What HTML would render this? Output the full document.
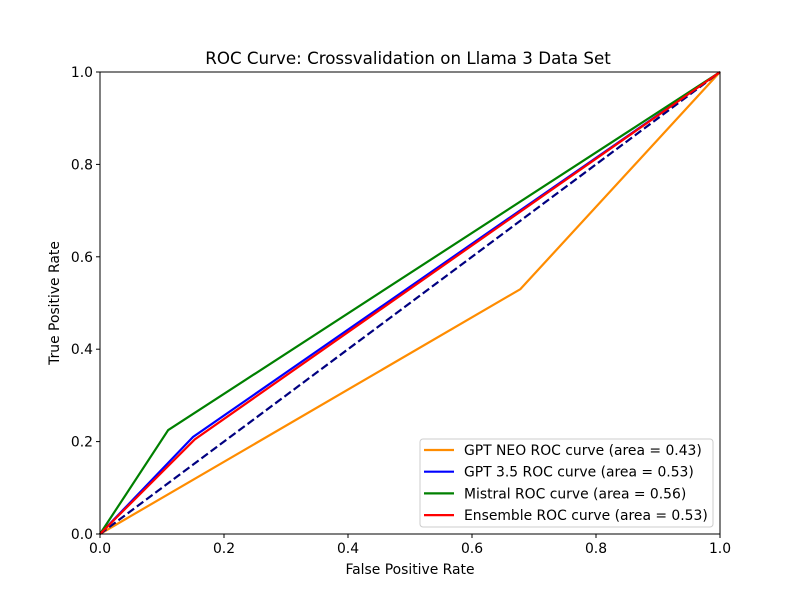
<!DOCTYPE html>
<html><head><meta charset="utf-8"><style>
body{margin:0;background:#fff;}
text{font-family:"DejaVu Sans","Liberation Sans",sans-serif;}
</style></head><body>
<svg id="chart" width="800" height="600" xmlns="http://www.w3.org/2000/svg">
<rect width="800" height="600" fill="#fff"/>
<text x="408" y="64" text-anchor="middle" font-size="16.7">ROC Curve: Crossvalidation on Llama 3 Data Set</text>
<g id="plot"></g>
<text x="410" y="574" text-anchor="middle" font-size="13.9">False Positive Rate</text>
<text x="59" y="303" text-anchor="middle" font-size="13.9" transform="rotate(-90 59 303)">True Positive Rate</text>
</svg>
<script>
const xTicks=[0,0.2,0.4,0.6,0.8,1.0];
const yTicks=[0,0.2,0.4,0.6,0.8,1.0];
const seriesNames=["GPT NEO ROC curve (area = 0.43)","GPT 3.5 ROC curve (area = 0.53)","Mistral ROC curve (area = 0.56)","Ensemble ROC curve (area = 0.53)"];
const seriesColors=["darkorange","blue","green","red"];
const neoFpr=[0,0.678,1]; const neoTpr=[0,0.53,1];
const gpt35Fpr=[0,0.15,1]; const gpt35Tpr=[0,0.21,1];
const mistralFpr=[0,0.11,1]; const mistralTpr=[0,0.225,1];
const ensFpr=[0,0.153,1]; const ensTpr=[0,0.205,1];
const chanceX=[0,1]; const chanceY=[0,1];

const L=100,R=720,T=72,B=534;
const sx=v=>L+v*(R-L), sy=v=>B-v*(B-T);
const NS="http://www.w3.org/2000/svg";
const g=document.getElementById('plot');
function mk(tag,attrs,parent){const e=document.createElementNS(NS,tag);for(const k in attrs)e.setAttribute(k,attrs[k]);(parent||g).appendChild(e);return e;}
function pts(xs,ys){return xs.map((x,i)=>sx(x)+','+sy(ys[i])).join(' ');}

xTicks.forEach(t=>{
 const l=mk('line',{x1:sx(t),x2:sx(t),y1:B,y2:B+4,stroke:'#000'});
 
 
 const tx=mk('text',{x:sx(t),y:B+19,'text-anchor':'middle','font-size':'13.9'});
 tx.textContent=t.toFixed(1);
 
 
});
yTicks.forEach(t=>{
 const l=mk('line',{x1:L-4,x2:L,y1:sy(t),y2:sy(t),stroke:'#000'});
 
 
 const tx=mk('text',{x:L-7,y:sy(t)+5,'text-anchor':'end','font-size':'13.9'});
 tx.textContent=t.toFixed(1);
 
 
});

const allX=[neoFpr,gpt35Fpr,mistralFpr,ensFpr], allY=[neoTpr,gpt35Tpr,mistralTpr,ensTpr];
[0,1,2,3].forEach(i=>{
 const p=mk('polyline',{points:pts(allX[i],allY[i]),fill:'none',stroke:seriesColors[i],'stroke-width':2.2});
 
 
 if(i===2){
  const c=mk('polyline',{points:pts(chanceX,chanceY),fill:'none',stroke:'navy','stroke-width':2.2,'stroke-dasharray':'8,3.5'});
  
  
 }
});
const frame=mk('rect',{x:L,y:T,width:R-L,height:B-T,fill:'none',stroke:'#000','stroke-width':1});



const lg=mk('g',{});


mk('rect',{x:420,y:439,width:293,height:88,rx:3,fill:'#fff','fill-opacity':0.8,stroke:'#ccc'},lg);
seriesNames.forEach((n,i)=>{
 const y=450+i*21.7;
 const l=mk('line',{x1:424,x2:454,y1:y,y2:y,stroke:seriesColors[i],'stroke-width':2.2},lg);
 
 
 const t=mk('text',{x:464,y:y+5,'font-size':'13.9'},lg);
 t.textContent=n;
 
 
});
</script>
</body></html>
